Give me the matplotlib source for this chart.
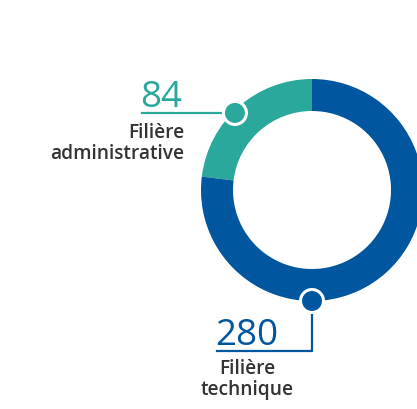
import matplotlib.pyplot as plt
from matplotlib.patches import Circle
import numpy as np

plt.rcParams['font.family'] = ['Open Sans', 'DejaVu Sans']

# data
labels = ['Filière\nadministrative', 'Filière\ntechnique']
values = [84, 280]
colors = ['#29a89b', '#00569f']
text_col = '#333333'

fig = plt.figure(figsize=(4.17, 4.10), dpi=100)
ax = fig.add_axes([0, 0, 1, 1])

cx, cy, R, w = 312, 219, 111, 32
ax.pie(values, colors=colors, startangle=90, counterclock=True,
       radius=R, center=(cx, cy), wedgeprops=dict(width=w, linewidth=0))
ax.set_xlim(0, 417)
ax.set_ylim(0, 410)
ax.set_aspect('equal')
ax.axis('off')

def pt(angle_from_top, r):
    a = np.deg2rad(90 + angle_from_top)
    return cx + r * np.cos(a), cy + r * np.sin(a)

# teal label (administrative)
mx, my = pt(45, 109)
ax.plot([142, mx], [my, my], color=colors[0], lw=1.6, zorder=3)
ax.add_patch(Circle((mx, my), 11.5, facecolor=colors[0], edgecolor='white', lw=2.2, zorder=4))
ax.text(140, 303, str(values[0]), color=colors[0], fontsize=26.5, fontweight='normal',
        ha='left', va='baseline')
ax.text(184, 287, labels[0], color=text_col, fontsize=13.8, fontweight=600,
        ha='right', va='top', multialignment='right', linespacing=1.05)

# blue label (technique)
bx, by = pt(180, 111)
ax.plot([bx, bx, 217], [by, 58, 58], color=colors[1], lw=1.6, zorder=3)
ax.add_patch(Circle((bx, by), 11.5, facecolor=colors[1], edgecolor='white', lw=2.2, zorder=4))
ax.text(215, 65, str(values[1]), color=colors[1], fontsize=26.5, fontweight='normal',
        ha='left', va='baseline')
ax.text(247, 51, labels[1], color=text_col, fontsize=13.8, fontweight=600,
        ha='center', va='top', multialignment='center', linespacing=1.05)

fig.savefig('out.png', dpi=100)
